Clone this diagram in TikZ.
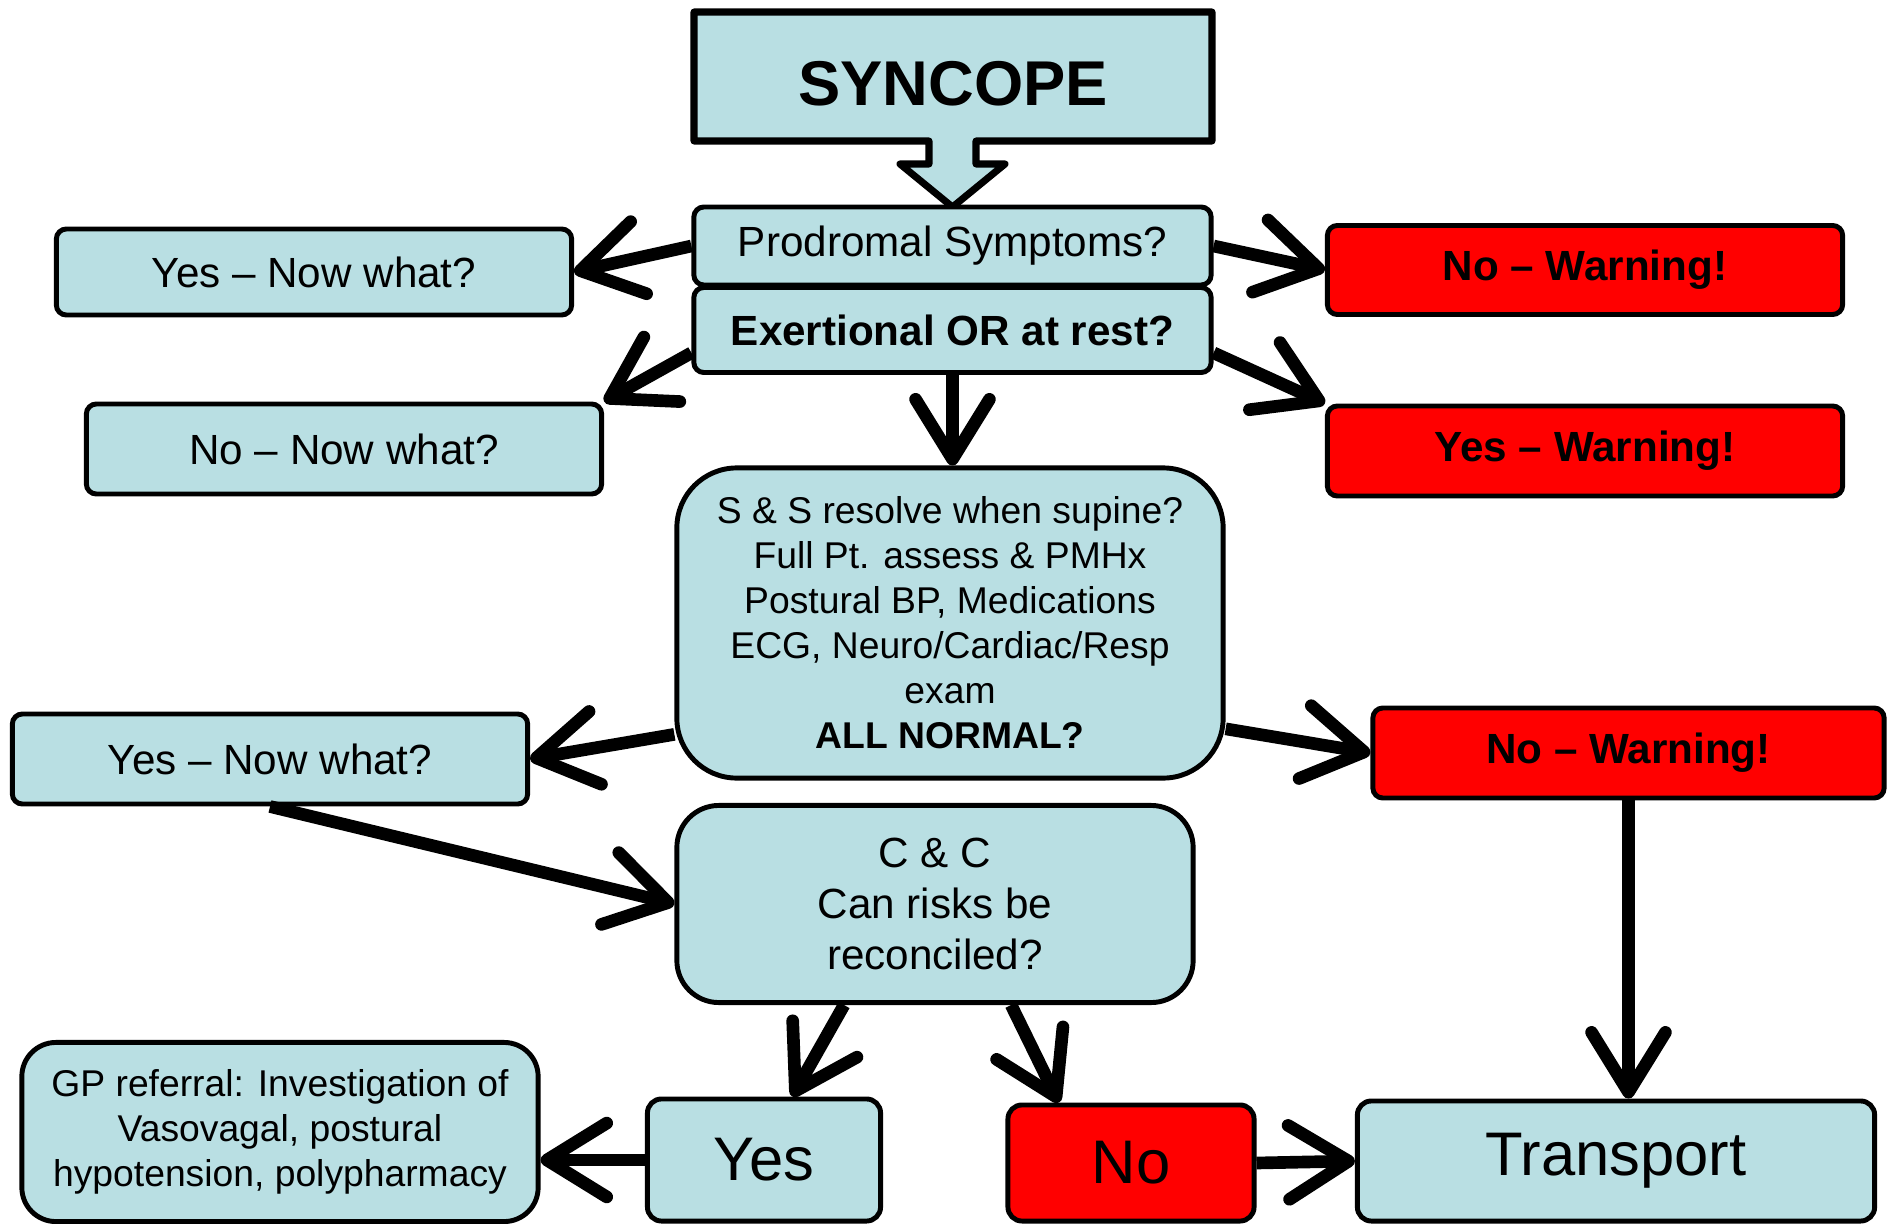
\documentclass[tikz,border=0pt]{standalone}
\usepackage{fontspec}
\setmainfont{Liberation Sans}
\usetikzlibrary{arrows.meta}

\definecolor{boxblue}{HTML}{B9DFE3}
\definecolor{warnred}{HTML}{FF0000}

\begin{document}
\begin{tikzpicture}[x=0.01cm,y=-0.01cm,
        box/.style={draw=black,line width=1.4pt,fill=boxblue,rounded corners=0.1cm,inner sep=0pt,align=center,font=\fontsize{12}{14.4}\selectfont},
        warnbox/.style={box,fill=warnred,font=\fontsize{12}{14.4}\selectfont\bfseries},
        bigtext/.style={font=\fontsize{17.5}{21}\selectfont},
        arr/.style={line width=3.6pt,-{Straight Barb[length=17pt,width=21pt,round]}}]
        \useasboundingbox (0,0) rectangle (1887,1224);
        % title with its arrow
        \draw[line width=2pt,fill=boxblue,line join=round](694,12)--(1212,12)--(1212,141)--(976,141)--(976,164)--(1005,164)--(952.5,207)--(900,164)--(929,164)--(929,141)--(694,141)--cycle;
        \node (syncope) at (953,84){\fontsize{18}{21}\selectfont\bfseries SYNCOPE};
        % first questions
        \node[box,minimum width=5.17cm,minimum height=0.78cm] (prodromal) at (952.5,246){Prodromal Symptoms?};
        \node[box,minimum width=5.17cm,minimum height=0.85cm,font=\fontsize{12}{14.4}\selectfont\bfseries] (exertional) at (952.5,330){Exertional OR at rest?};
        \node[box,minimum width=5.15cm,minimum height=0.86cm] (yesA) at (314,272){Yes -- Now what?};
        \node[box,minimum width=5.15cm,minimum height=0.9cm] (noA) at (344,449){No -- Now what?};
        \node[warnbox,minimum width=5.15cm,minimum height=0.89cm] (warnA) at (1585,270){No -- Warning!};
        \node[warnbox,minimum width=5.15cm,minimum height=0.9cm] (warnB) at (1585,451){Yes -- Warning!};
        % assessment
        \node[box,minimum width=5.46cm,minimum height=3.1cm,rounded corners=0.6cm,font=\fontsize{10.6}{12.8}\selectfont] (assess) at (950,623){S \& S resolve when supine?\\Full Pt. assess \& PMHx\\Postural BP, Medications\\ECG, Neuro/Cardiac/Resp\\exam\\\textbf{ALL NORMAL?}};
        \node[box,minimum width=5.15cm,minimum height=0.9cm] (yesB) at (270,759){Yes -- Now what?};
        \node[warnbox,minimum width=5.11cm,minimum height=0.9cm] (warnC) at (1628.5,753){No -- Warning!};
        \node[box,minimum width=5.16cm,minimum height=1.97cm,rounded corners=0.42cm,font=\fontsize{12}{14.5}\selectfont] (cc) at (935,904){C \& C\\Can risks be\\reconciled?};
        % outcomes
        \node[box,minimum width=5.16cm,minimum height=1.79cm,rounded corners=0.34cm,font=\fontsize{10.6}{12.8}\selectfont] (gp) at (280,1132){GP referral: Investigation of\\Vasovagal, postural\\hypotension, polypharmacy};
        \node[box,bigtext,minimum width=2.33cm,minimum height=1.22cm,rounded corners=0.14cm] (yes) at (764,1160){Yes};
        \node[box,bigtext,fill=warnred,minimum width=2.46cm,minimum height=1.16cm,rounded corners=0.14cm] (no) at (1131,1163){No};
        \node[box,bigtext,minimum width=5.17cm,minimum height=1.2cm,rounded corners=0.14cm] (transport) at (1616,1161){\raisebox{-2pt}{Transport}};
        % arrows
        \draw[arr](prodromal.west)--(yesA.east);
        \draw[arr](prodromal.east)--(warnA.west);
        \draw[arr](exertional.185)--(noA.north east);
        \draw[arr](exertional.355)--(warnB.north west);
        \draw[arr](exertional.south)--(exertional.south |- assess.north);
        \draw[arr](assess.202)--(yesB.east);
        \draw[arr](assess.339)--(warnC.west);
        \draw[arr](yesB.south)--(cc.west);
        \draw[arr](cc.228)--(yes.66);
        \draw[arr](cc.307)--(no.140);
        \draw[arr](warnC.south)--(warnC.south |- transport.north);
        \draw[arr](no.east)--(transport.west);
        \draw[arr](yes.west)--(yes.west -| gp.east);
    \end{tikzpicture}
\end{document}
